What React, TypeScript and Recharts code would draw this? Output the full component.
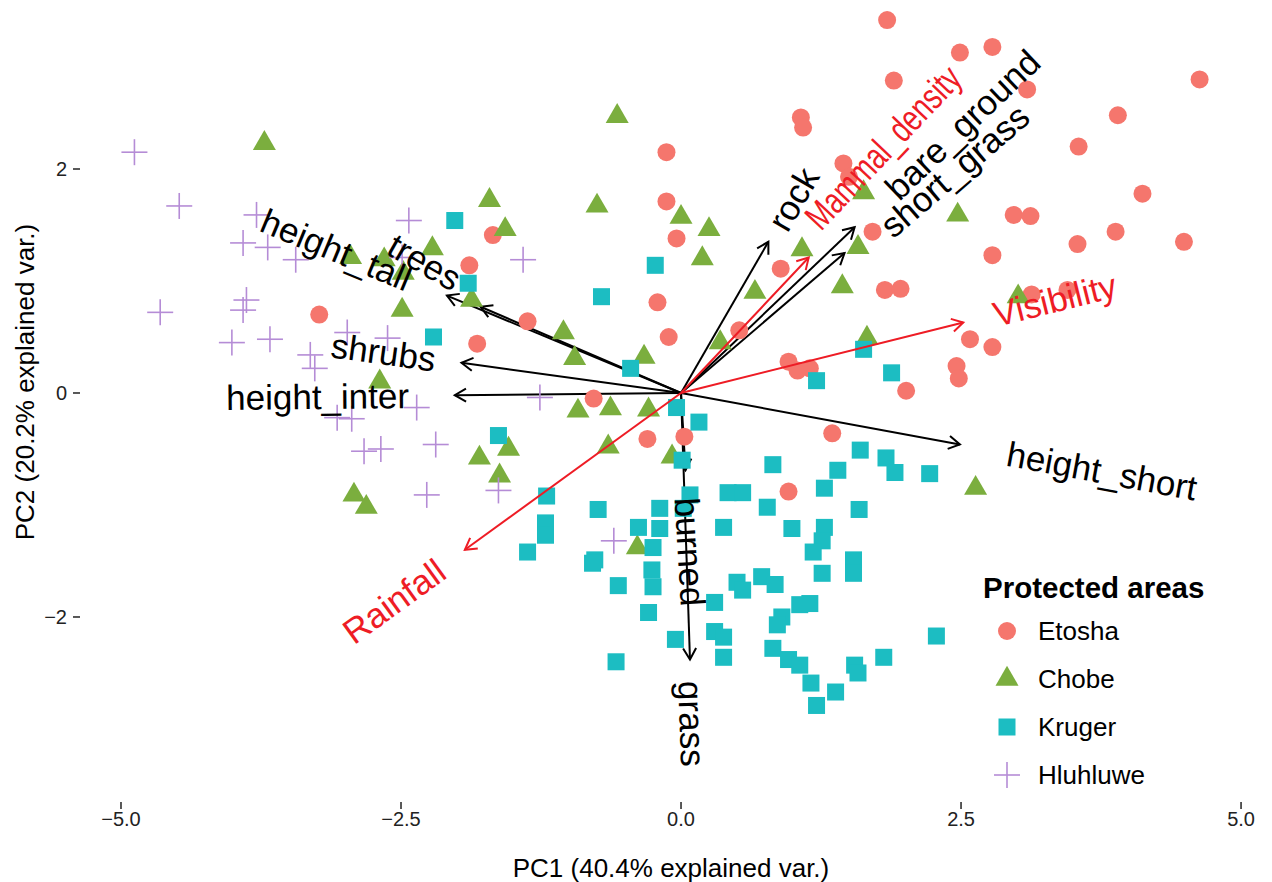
import React from "react";
import {
  ScatterChart,
  Scatter,
  XAxis,
  YAxis,
  ReferenceLine,
  ReferenceDot,
} from "recharts";

const FONT = '"Liberation Sans", Arial, Helvetica, sans-serif';

// PC scores, [PC1, PC2]
const ETOSHA: [number, number][] = [
  [1.84, 3.33], [2.49, 3.04], [2.78, 3.09], [1.9, 2.79], [4.63, 2.8],
  [3.09, 2.71], [3.9, 2.48], [1.07, 2.46], [1.09, 2.37], [3.55, 2.2],
  [-0.13, 2.15], [1.45, 2.05], [1.5, 1.93], [4.12, 1.78], [-0.13, 1.71],
  [2.97, 1.59], [3.12, 1.58], [4.49, 1.35], [3.54, 1.33], [3.88, 1.44],
  [2.78, 1.23], [1.71, 1.44], [1.82, 0.92], [1.96, 0.93], [3.13, 0.88],
  [3.45, 0.92], [2.58, 0.48], [2.78, 0.41], [2.46, 0.24], [2.48, 0.13],
  [2.01, 0.02], [0.96, 0.28], [1.04, 0.2], [1.15, 0.22], [0.89, 1.11],
  [0.52, 0.56], [-0.11, 0.5], [-0.21, 0.81], [-0.04, 1.38], [-1.68, 1.41],
  [-1.89, 1.14], [-1.37, 0.64], [-1.82, 0.44], [-3.23, 0.7], [-0.78, -0.05],
  [-0.3, -0.41], [0.03, -0.39], [1.35, -0.36], [0.96, -0.88],
];

const CHOBE: [number, number][] = [
  [-3.72, 2.23], [-0.57, 2.47], [-1.71, 1.72], [-1.57, 1.46], [-0.75, 1.67],
  [0.0, 1.57], [0.25, 1.46], [0.19, 1.2], [-2.22, 1.29], [-2.95, 1.21],
  [-2.65, 1.19], [-2.48, 1.07], [-1.87, 0.83], [-2.49, 0.74], [-2.69, 0.1],
  [0.66, 0.9], [-1.05, 0.54], [-0.95, 0.31], [-0.33, 0.32], [0.35, 0.45],
  [-0.92, -0.16], [-0.63, -0.14], [-0.29, -0.15], [1.08, 1.28], [-0.65, -0.48],
  [-1.8, -0.58], [-1.54, -0.5], [-1.62, -0.74], [-0.08, -0.57], [1.63, 1.79],
  [1.58, 1.3], [2.47, 1.59], [1.44, 0.95], [3.01, 0.86], [1.66, 0.49],
  [2.63, -0.85], [-2.92, -0.91], [-2.81, -1.02], [-0.39, -1.38],
];

const KRUGER: [number, number][] = [
  [-2.02, 1.54], [-1.9, 0.98], [-2.21, 0.5], [-0.23, 1.14], [-0.71, 0.86],
  [-0.45, 0.22], [-0.04, -0.13], [0.16, -0.26], [0.01, -0.6], [-1.63, -0.38],
  [0.82, -0.64], [1.63, 0.39], [1.21, 0.11], [1.88, 0.18], [1.6, -0.51],
  [1.83, -0.58], [1.91, -0.71], [2.22, -0.72], [1.4, -0.69], [1.28, -0.85],
  [1.59, -1.04], [0.08, -0.91], [0.02, -1.03], [0.42, -0.89], [0.55, -0.89],
  [0.77, -1.02], [0.38, -1.2], [0.99, -1.21], [1.28, -1.2], [1.26, -1.32],
  [1.18, -1.42], [1.54, -1.49], [1.54, -1.61], [1.26, -1.61], [0.5, -1.69],
  [0.72, -1.64], [0.84, -1.71], [0.55, -1.76], [0.3, -1.87], [1.15, -1.88],
  [1.06, -1.89], [0.9, -2.0], [0.86, -2.07], [0.3, -2.13], [0.38, -2.18],
  [0.38, -2.36], [0.82, -2.28], [0.96, -2.38], [1.06, -2.43], [1.16, -2.59],
  [1.21, -2.79], [1.38, -2.67], [1.55, -2.43], [1.58, -2.5], [1.81, -2.36],
  [2.28, -2.17], [-0.05, -2.2], [-0.58, -2.4], [-0.29, -1.96], [-0.56, -1.72],
  [-0.26, -1.58], [-0.25, -1.73], [-0.25, -1.38], [-0.19, -1.21], [-0.19, -1.03],
  [-0.38, -1.2], [-0.74, -1.04], [-0.77, -1.49], [-0.79, -1.52], [-1.2, -0.92],
  [-1.21, -1.16], [-1.21, -1.27], [-1.37, -1.42],
];

const HLUHLUWE: [number, number][] = [
  [-4.88, 2.15], [-4.48, 1.67], [-3.79, 1.59], [-3.91, 1.34], [-3.69, 1.3],
  [-3.44, 1.19], [-2.43, 1.54], [-2.49, 1.21], [-1.41, 1.19], [-3.88, 0.83],
  [-3.91, 0.74], [-4.65, 0.72], [-4.01, 0.45], [-3.67, 0.48], [-3.31, 0.34],
  [-3.27, 0.22], [-2.98, 0.54], [-2.62, 0.49], [-2.36, -0.13], [-1.26, -0.04],
  [-3.07, -0.22], [-2.94, -0.23], [-2.83, -0.52], [-2.68, -0.5], [-2.19, -0.46],
  [-2.27, -0.91], [-1.63, -0.87], [-0.6, -1.32],
];

// variable loadings (arrow tips)
const VAR_NAMES = [
  "height_tall", "trees", "shrubs", "height_inter", "height_short",
  "rock", "bare_ground", "short_grass", "burned", "grass",
];
const VAR_PC1 = [-2.09, -1.79, -1.96, -2.02, 2.49, 0.78, 1.55, 1.46, 0.04, 0.08];
const VAR_PC2 = [0.87, 0.77, 0.27, -0.02, -0.46, 1.35, 1.48, 1.25, -0.69, -2.38];

// supplementary variables, drawn in red
const SUPP_NAMES = ["Mammal_density", "Visibility", "Rainfall"];
const SUPP_PC1 = [1.14, 2.52, -1.93];
const SUPP_PC2 = [1.21, 0.63, -1.4];

const X_TICKS = [-5, -2.5, 0, 2.5, 5];
const Y_TICKS = [-2, 0, 2];

const C_ETOSHA = "#F5766D";
const C_CHOBE = "#7BAE3E";
const C_KRUGER = "#1CBDC2";
const C_HLUH = "#B58CD6";
const RED = "#EE1C25";
const LABEL_SIZE = 35;

// per-label nudges: gap along the arrow, shift across it (px), angle override, squeezed length
const LABEL_NUDGE: Record<
  string,
  { gap?: number; perp?: number; length?: number; angle?: number; size?: number }
> = {
  Mammal_density: { gap: 27, perp: -21, length: 208, size: 37 },
  trees: { gap: 32, perp: -11, angle: -30 },
  short_grass: { perp: 9 },
};

const toPts = (a: [number, number][]) => a.map(([x, y]) => ({ x, y }));

let ctx: CanvasRenderingContext2D | null = null;
function textWidth(s: string, size: number) {
  if (!ctx) ctx = document.createElement("canvas").getContext("2d");
  if (!ctx) return s.length * size * 0.55;
  ctx.font = `${size}px "Liberation Sans", Arial, sans-serif`;
  return ctx.measureText(s).width;
}

const minus = (v: number, digits: number) =>
  (v < 0 ? "\u2212" : "") + Math.abs(v).toFixed(digits);

// point glyphs
const Dot = (p: any) => <circle cx={p.cx} cy={p.cy} r={9} fill={C_ETOSHA} />;
const Tri = (p: any) => {
  const s = 23;
  const h = (s * Math.sqrt(3)) / 2;
  const { cx, cy } = p;
  return (
    <polygon
      points={`${cx},${cy - (2 * h) / 3} ${cx - s / 2},${cy + h / 3} ${cx + s / 2},${cy + h / 3}`}
      fill={C_CHOBE}
    />
  );
};
const Sq = (p: any) => (
  <rect x={p.cx - 8.5} y={p.cy - 8.5} width={17} height={17} fill={C_KRUGER} />
);
const Cross = (p: any) => (
  <g stroke={C_HLUH} strokeWidth={1.6}>
    <line x1={p.cx - 13} y1={p.cy} x2={p.cx + 13} y2={p.cy} />
    <line x1={p.cx} y1={p.cy - 13} x2={p.cx} y2={p.cy + 13} />
  </g>
);

const arrowShape = (color: string) => (p: any) => {
  const { x1, y1, x2, y2 } = p;
  const a = Math.atan2(y2 - y1, x2 - x1);
  const L = 13;
  const h = Math.PI / 6;
  const ax = x2 - L * Math.cos(a - h);
  const ay = y2 - L * Math.sin(a - h);
  const bx = x2 - L * Math.cos(a + h);
  const by = y2 - L * Math.sin(a + h);
  return (
    <g stroke={color} strokeWidth={2} fill="none">
      <line x1={x1} y1={y1} x2={x2} y2={y2} />
      <polyline points={`${ax},${ay} ${x2},${y2} ${bx},${by}`} />
    </g>
  );
};

const labelShape = (name: string, px: number, py: number, color: string) => (p: any) => {
  const nudge = LABEL_NUDGE[name] || {};
  const ang = nudge.angle ?? (Math.atan(py / px) * 180) / Math.PI;
  const size = nudge.size ?? LABEL_SIZE;
  const w = nudge.length ?? textWidth(name, size);
  const right = px > 0;
  const gap = nudge.gap ?? 0.25 * w;
  return (
    <g transform={`translate(${p.cx} ${p.cy}) rotate(${-ang})`}>
      <text
        x={right ? gap : -gap}
        y={nudge.perp ?? 0}
        textAnchor={right ? "start" : "end"}
        dominantBaseline="central"
        fontSize={size}
        fontFamily={FONT}
        fill={color}
        textLength={nudge.length}
        lengthAdjust={nudge.length ? "spacingAndGlyphs" : undefined}
      >
        {name}
      </text>
    </g>
  );
};

const LEGEND = [
  { label: "Etosha", Glyph: Dot },
  { label: "Chobe", Glyph: Tri },
  { label: "Kruger", Glyph: Sq },
  { label: "Hluhluwe", Glyph: Cross },
];

export default function App() {
  return (
    <div style={{ position: "absolute", left: 0, top: 0, width: 1272, height: 882, background: "#fff" }}>
      <ScatterChart width={1272} height={882} margin={{ top: 0, right: 9, bottom: 0, left: 0 }}>
        <XAxis
          type="number"
          dataKey="x"
          domain={[-5.366, 5.196]}
          ticks={X_TICKS}
          tickFormatter={(v: number) => minus(v, 1)}
          allowDataOverflow
          height={80}
          axisLine={false}
          tickLine={{ stroke: "#222", strokeWidth: 1.5 }}
          tickSize={7}
          tickMargin={3}
          tick={{ fontSize: 20, fill: "#222", fontFamily: FONT }}
        />
        <YAxis
          type="number"
          dataKey="y"
          domain={[-3.652, 3.509]}
          ticks={Y_TICKS}
          tickFormatter={(v: number) => minus(v, 0)}
          allowDataOverflow
          width={80}
          axisLine={false}
          tickLine={{ stroke: "#222", strokeWidth: 1.5 }}
          tickSize={7}
          tickMargin={6}
          tick={{ fontSize: 20, fill: "#222", fontFamily: FONT }}
        />

        {VAR_NAMES.map((n, i) => (
          <ReferenceLine
            key={"a-" + n}
            segment={[{ x: 0, y: 0 }, { x: VAR_PC1[i], y: VAR_PC2[i] }]}
            shape={arrowShape("#000")}
            ifOverflow="visible"
            zIndex={100}
          />
        ))}

        <Scatter data={toPts(ETOSHA)} shape={Dot} isAnimationActive={false} zIndex={600} />
        <Scatter data={toPts(CHOBE)} shape={Tri} isAnimationActive={false} zIndex={600} />
        <Scatter data={toPts(KRUGER)} shape={Sq} isAnimationActive={false} zIndex={600} />
        <Scatter data={toPts(HLUHLUWE)} shape={Cross} isAnimationActive={false} zIndex={600} />

        {SUPP_NAMES.map((n, i) => (
          <ReferenceLine
            key={"s-" + n}
            segment={[{ x: 0, y: 0 }, { x: SUPP_PC1[i], y: SUPP_PC2[i] }]}
            shape={arrowShape(RED)}
            ifOverflow="visible"
            zIndex={700}
          />
        ))}

        {VAR_NAMES.map((n, i) => (
          <ReferenceDot
            key={"l-" + n}
            x={VAR_PC1[i]}
            y={VAR_PC2[i]}
            r={1}
            shape={labelShape(n, VAR_PC1[i], VAR_PC2[i], "#000")}
            ifOverflow="visible"
            zIndex={800}
          />
        ))}
        {SUPP_NAMES.map((n, i) => (
          <ReferenceDot
            key={"sl-" + n}
            x={SUPP_PC1[i]}
            y={SUPP_PC2[i]}
            r={1}
            shape={labelShape(n, SUPP_PC1[i], SUPP_PC2[i], RED)}
            ifOverflow="visible"
            zIndex={800}
          />
        ))}
      </ScatterChart>

      {/* axis titles and legend */}
      <svg
        width={1272}
        height={882}
        style={{ position: "absolute", left: 0, top: 0, pointerEvents: "none" }}
        fontFamily={FONT}
      >
        <text x={671} y={868} textAnchor="middle" dominantBaseline="central" fontSize={26} fill="#000">
          PC1 (40.4% explained var.)
        </text>
        <text
          x={25}
          y={382}
          transform="rotate(-90 25 382)"
          textAnchor="middle"
          dominantBaseline="central"
          fontSize={26}
          fill="#000"
        >
          PC2 (20.2% explained var.)
        </text>

        <text x={983} y={587} dominantBaseline="central" fontSize={29.5} fontWeight="bold" fill="#000">
          Protected areas
        </text>
        {LEGEND.map((it, i) => {
          const cy = 631 + i * 48;
          const G = it.Glyph;
          return (
            <g key={it.label}>
              <G cx={1007} cy={cy} />
              <text x={1038} y={cy} dominantBaseline="central" fontSize={26} fill="#000">
                {it.label}
              </text>
            </g>
          );
        })}
      </svg>
    </div>
  );
}
